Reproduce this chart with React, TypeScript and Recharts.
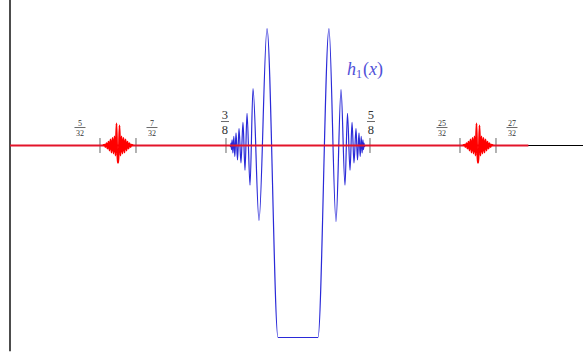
import { LineChart, Line, XAxis, YAxis, ReferenceLine, ReferenceDot } from "recharts";

// x ticks on the axis (fractions of the unit interval)
const tickValues = [5 / 32, 7 / 32, 3 / 8, 5 / 8, 25 / 32, 27 / 32];
const tickNums = ["5", "7", "3", "5", "25", "27"];
const tickDens = ["32", "32", "8", "8", "32", "32"];

// h1(x) as [x, y]
const h1Points: [number, number][] = [
  [0.375, 0], [0.3819, 0], [0.383, -0.002], [0.3837, 0.004], [0.3846, -0.007],
  [0.3856, 0.01], [0.387, -0.013], [0.3886, 0.016], [0.3903, -0.019], [0.3924, 0.022],
  [0.395, -0.025], [0.3976, 0.0295], [0.401, -0.03], [0.4045, 0.04], [0.408, -0.043],
  [0.4115, 0.056], [0.4167, -0.069], [0.4219, 0.099], [0.4323, -0.13], [0.4462, 0.203],
  [0.4653, -0.3333], [0.5347, -0.3333], [0.5538, 0.203], [0.566, -0.132], [0.5747, 0.097],
  [0.5816, -0.069], [0.5859, 0.056], [0.5903, -0.043], [0.5938, 0.04], [0.5972, -0.03],
  [0.6007, 0.0295], [0.6033, -0.025], [0.6059, 0.022], [0.608, -0.019], [0.6097, 0.016],
  [0.6113, -0.013], [0.6127, 0.01], [0.6137, -0.007], [0.6146, 0.004], [0.6153, -0.002],
  [0.6163, 0], [0.625, 0],
];

// red bursts around 3/16 and 13/16
const burstLeft: [number, number][] = [
  [0.1615, 0], [0.1641, 0.0017], [0.1658, -0.0026], [0.1675, 0.0043], [0.1693, -0.0052],
  [0.171, 0.0069], [0.1727, -0.0087], [0.1745, 0.0104], [0.1762, -0.0122], [0.178, 0.013],
  [0.1797, -0.0139], [0.1814, 0.0156], [0.1832, -0.0174], [0.1849, 0.0382], [0.1866, -0.0295],
  [0.1884, -0.0295], [0.1901, 0.0347], [0.1918, -0.0174], [0.1936, 0.0156], [0.1953, -0.0139],
  [0.197, 0.013], [0.1988, -0.0122], [0.2005, 0.0104], [0.2023, -0.0087], [0.204, 0.0069],
  [0.2057, -0.0052], [0.2075, 0.0043], [0.2092, -0.0026], [0.2109, 0.0017], [0.2135, 0],
];
const burstRight: [number, number][] = [
  [0.7865, 0], [0.7891, 0.0017], [0.7908, -0.0026], [0.7925, 0.0043], [0.7943, -0.0052],
  [0.796, 0.0069], [0.7977, -0.0087], [0.7995, 0.0104], [0.8012, -0.0122], [0.803, 0.013],
  [0.8047, -0.0139], [0.8064, 0.0156], [0.8082, -0.0174], [0.8099, 0.0382], [0.8116, -0.0295],
  [0.8134, -0.0295], [0.8151, 0.0347], [0.8168, -0.0174], [0.8186, 0.0156], [0.8203, -0.0139],
  [0.822, 0.013], [0.8238, -0.0122], [0.8255, 0.0104], [0.8273, -0.0087], [0.829, 0.0069],
  [0.8307, -0.0052], [0.8325, 0.0043], [0.8342, -0.0026], [0.8359, 0.0017], [0.8385, 0],
];

const redAxis: [number, number][] = [[0, 0], [0.9, 0]];

const toRows = (pts: [number, number][]) => pts.map(([x, y]) => ({ x, y }));

// label placement relative to each tick (px)
const labelDx = [-20, 16, -1, 1, -18, 16];
const serif = { fontFamily: "'Liberation Serif', 'DejaVu Serif', serif" };

function FracLabel(props: any) {
  const { viewBox, num, den, dx, big } = props;
  if (!viewBox) return null;
  const cx = viewBox.x + dx;
  const fs = big ? 12.5 : 8;
  const barY = viewBox.y - (big ? 16.5 : 10.5);
  const w = big ? 8 : 11;
  return (
    <g>
      <text x={cx} y={barY - (big ? 2.5 : 1.3)} textAnchor="middle" fontSize={fs} fill="#333" style={serif}>{num}</text>
      <line x1={cx - w / 2} x2={cx + w / 2} y1={barY} y2={barY} stroke="#444" strokeWidth={0.8} />
      <text x={cx} y={barY + (big ? 12.5 : 8.2)} textAnchor="middle" fontSize={fs} fill="#333" style={serif}>{den}</text>
    </g>
  );
}

function H1Label(props: any) {
  const { viewBox } = props;
  if (!viewBox) return null;
  return (
    <text x={viewBox.x} y={viewBox.y} fontSize={18} fill="#5050d8" style={serif}>
      <tspan fontStyle="italic">h</tspan>
      <tspan fontSize={12} dy={3}>1</tspan>
      <tspan dy={-3} dx={1}>(</tspan>
      <tspan fontStyle="italic">x</tspan>
      <tspan>)</tspan>
    </text>
  );
}

export default function App() {
  return (
    <div style={{ position: "absolute", left: 0, top: 0, background: "#fff" }}>
      <LineChart width={583} height={358} margin={{ top: 0, right: 0, bottom: 0, left: 10 }}>
        <XAxis type="number" dataKey="x" domain={[0, 0.9948]} hide allowDataOverflow />
        <YAxis type="number" dataKey="y" domain={[-0.3689, 0.2526]} hide allowDataOverflow />
        <ReferenceLine y={0} stroke="#000" strokeWidth={1} />
        <ReferenceLine
          segment={[{ x: 0, y: 0.2526 }, { x: 0, y: -0.357 }]}
          stroke="#000"
          strokeWidth={1.4}
        />
        {tickValues.map((t, i) => (
          <ReferenceLine
            key={i}
            segment={[{ x: t, y: 0.013 }, { x: t, y: -0.013 }]}
            stroke="#666"
            strokeWidth={1}
            label={(p: any) => (
              <FracLabel {...p} num={tickNums[i]} den={tickDens[i]} dx={labelDx[i]} big={tickDens[i] === "8"} />
            )}
          />
        ))}
        <Line data={toRows(h1Points)} dataKey="y" type="monotone" stroke="#2a2ad8" strokeWidth={1.2} dot={false} isAnimationActive={false} />
        <Line data={toRows(redAxis)} dataKey="y" stroke="#e3142a" strokeWidth={2.2} dot={false} isAnimationActive={false} />
        <Line data={toRows(burstLeft)} dataKey="y" type="monotone" stroke="#ff0000" strokeWidth={1.8} dot={false} isAnimationActive={false} />
        <Line data={toRows(burstRight)} dataKey="y" type="monotone" stroke="#ff0000" strokeWidth={1.8} dot={false} isAnimationActive={false} />
        <ReferenceDot x={0.585} y={0.123} r={0} fill="none" stroke="none" label={(p: any) => <H1Label {...p} />} />
      </LineChart>
    </div>
  );
}
